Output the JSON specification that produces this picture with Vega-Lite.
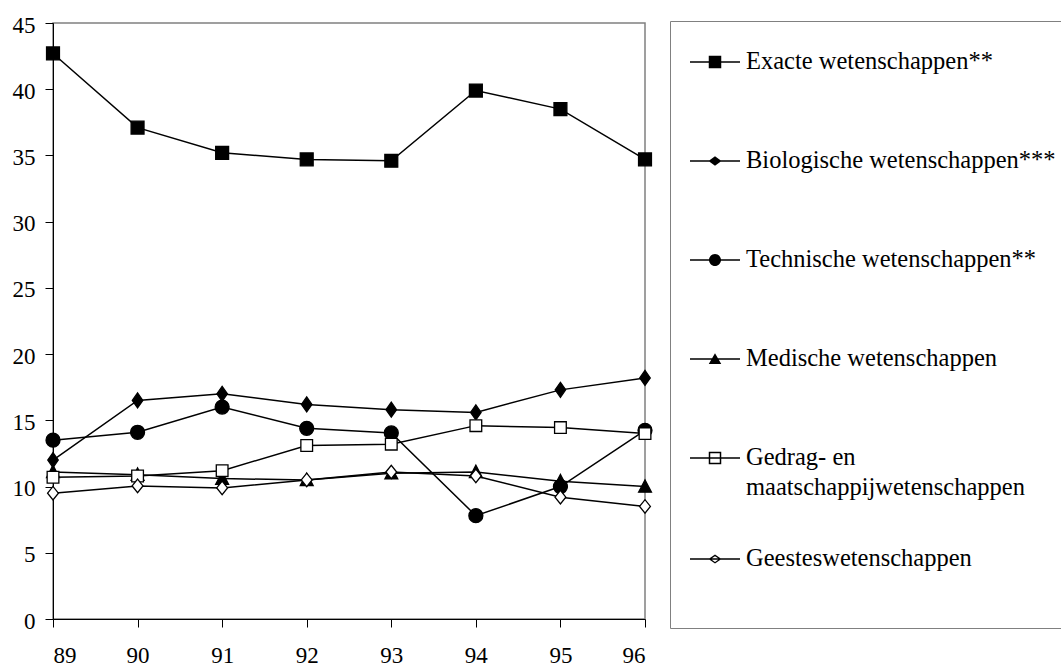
{
  "$schema": "https://vega.github.io/schema/vega-lite/v6.json",
  "width": 592,
  "height": 596,
  "autosize": {"type": "none"},
  "padding": {"left": 53, "top": 23, "right": 416, "bottom": 48},
  "background": "white",
  "config": {
    "font": "Liberation Serif",
    "view": {"stroke": "#808080", "strokeWidth": 1.5},
    "style": {"guide-label": {"lineHeight": 30}}
  },
  "data": {
    "values": [
      {"series": "Exacte wetenschappen**", "year": 89, "value": 42.7},
      {"series": "Exacte wetenschappen**", "year": 90, "value": 37.1},
      {"series": "Exacte wetenschappen**", "year": 91, "value": 35.2},
      {"series": "Exacte wetenschappen**", "year": 92, "value": 34.7},
      {"series": "Exacte wetenschappen**", "year": 93, "value": 34.6},
      {"series": "Exacte wetenschappen**", "year": 94, "value": 39.9},
      {"series": "Exacte wetenschappen**", "year": 95, "value": 38.5},
      {"series": "Exacte wetenschappen**", "year": 96, "value": 34.7},
      {"series": "Biologische wetenschappen***", "year": 89, "value": 12.0},
      {"series": "Biologische wetenschappen***", "year": 90, "value": 16.5},
      {"series": "Biologische wetenschappen***", "year": 91, "value": 17.0},
      {"series": "Biologische wetenschappen***", "year": 92, "value": 16.2},
      {"series": "Biologische wetenschappen***", "year": 93, "value": 15.8},
      {"series": "Biologische wetenschappen***", "year": 94, "value": 15.6},
      {"series": "Biologische wetenschappen***", "year": 95, "value": 17.3},
      {"series": "Biologische wetenschappen***", "year": 96, "value": 18.2},
      {"series": "Technische wetenschappen**", "year": 89, "value": 13.5},
      {"series": "Technische wetenschappen**", "year": 90, "value": 14.1},
      {"series": "Technische wetenschappen**", "year": 91, "value": 16.0},
      {"series": "Technische wetenschappen**", "year": 92, "value": 14.4},
      {"series": "Technische wetenschappen**", "year": 93, "value": 14.05},
      {"series": "Technische wetenschappen**", "year": 94, "value": 7.8},
      {"series": "Technische wetenschappen**", "year": 95, "value": 10.0},
      {"series": "Technische wetenschappen**", "year": 96, "value": 14.25},
      {"series": "Medische wetenschappen", "year": 89, "value": 11.1},
      {"series": "Medische wetenschappen", "year": 90, "value": 10.9},
      {"series": "Medische wetenschappen", "year": 91, "value": 10.6},
      {"series": "Medische wetenschappen", "year": 92, "value": 10.5},
      {"series": "Medische wetenschappen", "year": 93, "value": 11.0},
      {"series": "Medische wetenschappen", "year": 94, "value": 11.1},
      {"series": "Medische wetenschappen", "year": 95, "value": 10.4},
      {"series": "Medische wetenschappen", "year": 96, "value": 10.0},
      {"series": "Gedrag- en maatschappijwetenschappen", "year": 89, "value": 10.7},
      {"series": "Gedrag- en maatschappijwetenschappen", "year": 90, "value": 10.8},
      {"series": "Gedrag- en maatschappijwetenschappen", "year": 91, "value": 11.2},
      {"series": "Gedrag- en maatschappijwetenschappen", "year": 92, "value": 13.1},
      {"series": "Gedrag- en maatschappijwetenschappen", "year": 93, "value": 13.2},
      {"series": "Gedrag- en maatschappijwetenschappen", "year": 94, "value": 14.6},
      {"series": "Gedrag- en maatschappijwetenschappen", "year": 95, "value": 14.45},
      {"series": "Gedrag- en maatschappijwetenschappen", "year": 96, "value": 14.0},
      {"series": "Geesteswetenschappen", "year": 89, "value": 9.5},
      {"series": "Geesteswetenschappen", "year": 90, "value": 10.05},
      {"series": "Geesteswetenschappen", "year": 91, "value": 9.9},
      {"series": "Geesteswetenschappen", "year": 92, "value": 10.5},
      {"series": "Geesteswetenschappen", "year": 93, "value": 11.1},
      {"series": "Geesteswetenschappen", "year": 94, "value": 10.8},
      {"series": "Geesteswetenschappen", "year": 95, "value": 9.2},
      {"series": "Geesteswetenschappen", "year": 96, "value": 8.5}
    ]
  },
  "encoding": {
    "x": {
      "field": "year",
      "type": "quantitative",
      "scale": {"domain": [89, 96], "nice": false, "zero": false},
      "axis": {
        "title": null,
        "values": [89, 90, 91, 92, 93, 94, 95, 96],
        "format": "d",
        "grid": false,
        "domainColor": "black",
        "domainWidth": 1,
        "tickColor": "black",
        "tickSize": 8,
        "labelFont": "Liberation Serif",
        "labelFontSize": 23,
        "labelColor": "black",
        "labelPadding": 17
      }
    },
    "y": {
      "field": "value",
      "type": "quantitative",
      "scale": {"domain": [0, 45], "nice": false},
      "axis": {
        "title": null,
        "values": [0, 5, 10, 15, 20, 25, 30, 35, 40, 45],
        "grid": false,
        "domainColor": "black",
        "domainWidth": 1,
        "tickColor": "black",
        "tickSize": 8,
        "labelFont": "Liberation Serif",
        "labelFontSize": 23,
        "labelColor": "black",
        "labelPadding": 10,
        "labelOffset": 2
      }
    }
  },
  "resolve": {"scale": {"shape": "independent", "fill": "independent"}},
  "layer": [
    {
      "mark": {"type": "line", "color": "black", "strokeWidth": 1.5},
      "encoding": {"detail": {"field": "series", "type": "nominal"}}
    },
    {
      "mark": {"type": "point", "filled": true, "stroke": "black", "strokeWidth": 1.3, "size": 225, "opacity": 1},
      "encoding": {
        "fill": {
          "field": "series",
          "type": "nominal",
          "scale": {
            "domain": ["Exacte wetenschappen**", "Biologische wetenschappen***", "Technische wetenschappen**", "Medische wetenschappen", "Gedrag- en maatschappijwetenschappen", "Geesteswetenschappen"],
            "range": ["black", "black", "black", "black", "white", "white"]
          },
          "legend": null
        },
        "shape": {
          "field": "series",
          "type": "nominal",
          "scale": {
            "domain": ["Exacte wetenschappen**", "Biologische wetenschappen***", "Technische wetenschappen**", "Medische wetenschappen", "Gedrag- en maatschappijwetenschappen", "Geesteswetenschappen"],
            "range": [
              "M-0.86,-0.86H0.86V0.86H-0.86Z",
              "M-0.7,0L0,-1L0.7,0L0,1Z",
              "M-0.93,0A0.93,0.93,0,1,1,0.93,0A0.93,0.93,0,1,1,-0.93,0Z",
              "M-0.86,0.75L0,-0.9L0.86,0.75Z",
              "M-0.78,-0.78H0.78V0.78H-0.78Z",
              "M-0.72,0L0,-0.9L0.72,0L0,0.9Z"
            ]
          },
          "legend": null
        }
      }
    },
    {
      "transform": [{"filter": "datum.year < 0"}],
      "mark": {"type": "point", "filled": true, "color": "black", "strokeWidth": 0, "opacity": 1},
      "encoding": {
        "shape": {
          "field": "series",
          "type": "nominal",
          "scale": {
            "domain": ["Exacte wetenschappen**", "Biologische wetenschappen***", "Technische wetenschappen**", "Medische wetenschappen", "Gedrag- en maatschappijwetenschappen", "Geesteswetenschappen"],
            "range": [
              "M0,-1.6L0,1.6ZM-1,-0.03H1V0.03H-1ZM-0.25,-0.25H0.25V0.25H-0.25Z",
              "M0,-1.6L0,1.6ZM-1,-0.03H1V0.03H-1ZM-0.26,0L0,-0.19L0.26,0L0,0.19Z",
              "M0,-1.6L0,1.6ZM-1,-0.03H1V0.03H-1ZM-0.24,0A0.24,0.24,0,1,1,0.24,0A0.24,0.24,0,1,1,-0.24,0Z",
              "M0,-1.6L0,1.6ZM-1,-0.03H1V0.03H-1ZM-0.25,0.2L0,-0.23L0.25,0.2Z",
              "M0,-1.6L0,1.6ZM-1,-0.03H1V0.03H-1ZM-0.25,-0.25H0.25V0.25H-0.25ZM-0.19,-0.19V0.19H0.19V-0.19Z",
              "M0,-1.6L0,1.6ZM-1,-0.03H1V0.03H-1ZM-0.26,0L0,-0.18L0.26,0L0,0.18ZM-0.17,0L0,0.115L0.17,0L0,-0.115Z"
            ]
          },
          "legend": {
            "orient": "none",
            "legendX": 617,
            "legendY": -2,
            "padding": 16,
            "strokeColor": "#808080",
            "fillColor": "white",
            "symbolSize": 2500,
            "symbolFillColor": "black",
            "symbolStrokeWidth": 0,
            "symbolOpacity": 1,
            "symbolOffset": 4,
            "labelOffset": 6,
            "labelFont": "Liberation Serif",
            "labelFontSize": 24.5,
            "labelColor": "black",
            "labelLimit": 600,
            "rowPadding": 19,
            "title": "__________________________________________________",
            "titleOrient": "bottom",
            "titleColor": "white",
            "titleFontSize": 13,
            "titlePadding": 0,
            "titleLimit": 2000,
            "labelExpr": "datum.label == 'Gedrag- en maatschappijwetenschappen' ? ['Gedrag- en', 'maatschappijwetenschappen'] : datum.label"
          }
        }
      }
    }
  ]
}
